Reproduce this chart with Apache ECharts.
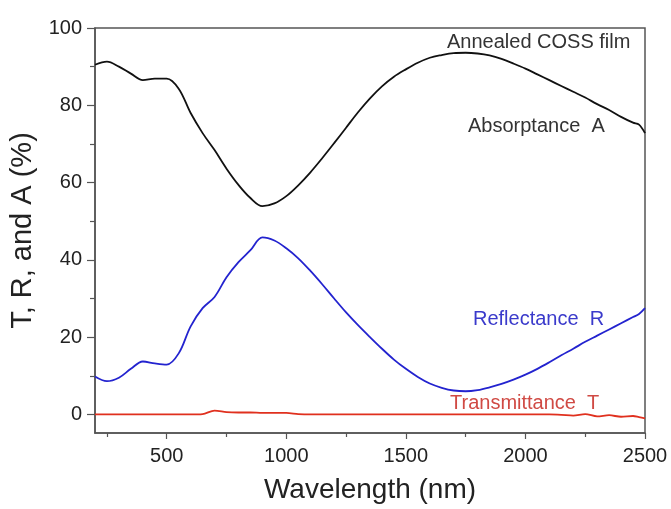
<!DOCTYPE html>
<html>
<head>
<meta charset="utf-8">
<script src="https://cdn.jsdelivr.net/npm/echarts@6/dist/echarts.min.js"></script>
<style>html,body{margin:0;padding:0;background:#fff;}#c{width:671px;height:509px;}</style>
</head>
<body>
<div id="c"></div>
<script>
const wavelength = [200,250,300,350,400,450,500,550,600,650,700,750,800,850,900,950,1000,1050,1100,1150,1200,1250,1300,1350,1400,1450,1500,1550,1600,1650,1700,1750,1800,1850,1900,1950,2000,2050,2100,2150,2200,2250,2300,2350,2400,2450,2475,2500];
const absorptance = [90.5,91.3,90.0,88.2,86.5,86.9,86.9,84.3,78.0,72.8,68.4,63.6,59.4,56.0,53.9,54.6,56.5,59.3,62.6,66.3,70.2,74.2,78.2,81.8,84.9,87.4,89.3,91.0,92.3,93.0,93.5,93.6,93.4,92.9,92.0,90.8,89.5,88.0,86.5,85.0,83.5,82.0,80.3,78.8,77.0,75.5,75.0,72.8];
const reflectance = [9.8,8.6,9.5,11.8,13.7,13.2,12.9,15.8,22.8,27.5,30.4,35.5,39.4,42.5,45.8,45.0,43.0,40.4,37.2,33.7,30.0,26.4,23.1,20.0,17.0,14.2,11.8,9.7,8.0,6.9,6.2,6.0,6.3,7.0,7.9,9.0,10.3,11.8,13.5,15.3,17.0,18.8,20.4,22.0,23.6,25.2,26.0,27.5];
const transmittance = [0,0,0,0,0,0,0,0,0,0.1,1.0,0.6,0.5,0.5,0.4,0.4,0.4,0.1,0,0,0,0,0,0,0,0,0,0,0,0,0,0,0,0,0,0,0,0,0,-0.1,-0.3,0.1,-0.5,-0.2,-0.6,-0.4,-0.7,-1.0];
const xMajor = [500,1000,1500,2000,2500];
const xMinor = [250,750,1250,1750,2250];
const yMajor = [0,20,40,60,80,100];
const yMinor = [10,30,50,70,90];

const font = "'Liberation Sans', Arial, sans-serif";
const pair = (ys) => wavelength.map((x, i) => [x, ys[i]]);
const axisCol = '#555';
const plain = (v) => String(v);

const chart = echarts.init(document.getElementById('c'), null, {renderer: 'canvas'});
chart.setOption({
  animation: false,
  backgroundColor: '#fff',
  grid: {left: 95, right: 26, top: 28, bottom: 74, show: true, borderColor: axisCol, borderWidth: 1.5, backgroundColor: 'transparent'},
  xAxis: [{
    type: 'value', min: 200, max: 2500,
    name: 'Wavelength (nm)', nameLocation: 'middle', nameGap: 43,
    nameTextStyle: {fontFamily: font, fontSize: 28, color: '#222'},
    axisLine: {show: true, onZero: false, lineStyle: {color: axisCol, width: 1.5}},
    axisTick: {show: true, inside: false, length: 6, customValues: xMajor, lineStyle: {color: axisCol, width: 1.2}},
    axisLabel: {show: true, customValues: xMajor, formatter: plain, margin: 13, fontFamily: font, fontSize: 20, color: '#222'},
    splitLine: {show: false}
  }, {
    type: 'value', min: 200, max: 2500, position: 'bottom',
    axisLine: {show: false, onZero: false},
    axisTick: {show: true, inside: false, length: 4, customValues: xMinor, lineStyle: {color: axisCol, width: 1.2}},
    axisLabel: {show: false},
    splitLine: {show: false}
  }],
  yAxis: [{
    type: 'value', min: -4.8, max: 100,
    name: 'T, R, and A (%)', nameLocation: 'middle', nameGap: 52, nameRotate: 90,
    nameTextStyle: {fontFamily: font, fontSize: 29, color: '#222'},
    axisLine: {show: true, onZero: false, lineStyle: {color: axisCol, width: 1.5}},
    axisTick: {show: true, inside: false, length: 8, customValues: yMajor, lineStyle: {color: axisCol, width: 1.2}},
    axisLabel: {show: true, customValues: yMajor, formatter: plain, margin: 13, fontFamily: font, fontSize: 20, color: '#222'},
    splitLine: {show: false}
  }, {
    type: 'value', min: -4.8, max: 100, position: 'left',
    axisLine: {show: false, onZero: false},
    axisTick: {show: true, inside: false, length: 5, customValues: yMinor, lineStyle: {color: axisCol, width: 1.2}},
    axisLabel: {show: false},
    splitLine: {show: false}
  }],
  series: [
    {type: 'line', name: 'Absorptance A', data: pair(absorptance), showSymbol: false, smooth: 0.35, lineStyle: {color: '#111', width: 1.8}, z: 3},
    {type: 'line', name: 'Reflectance R', data: pair(reflectance), showSymbol: false, smooth: 0.35, lineStyle: {color: '#2323cf', width: 1.8}, z: 3},
    {type: 'line', name: 'Transmittance T', data: pair(transmittance), showSymbol: false, smooth: 0.3, lineStyle: {color: '#e0301e', width: 1.8}, z: 3}
  ],
  graphic: [
    {type: 'text', left: 447, top: 32, style: {text: 'Annealed COSS film', fontFamily: font, fontSize: 20, fill: '#333'}},
    {type: 'text', left: 468, top: 116, style: {text: 'Absorptance  A', fontFamily: font, fontSize: 20, fill: '#333'}},
    {type: 'text', left: 473, top: 309, style: {text: 'Reflectance  R', fontFamily: font, fontSize: 20, fill: '#3a3acb'}},
    {type: 'text', left: 450, top: 393, style: {text: 'Transmittance  T', fontFamily: font, fontSize: 20, fill: '#d04a44'}}
  ]
});
</script>
</body>
</html>
